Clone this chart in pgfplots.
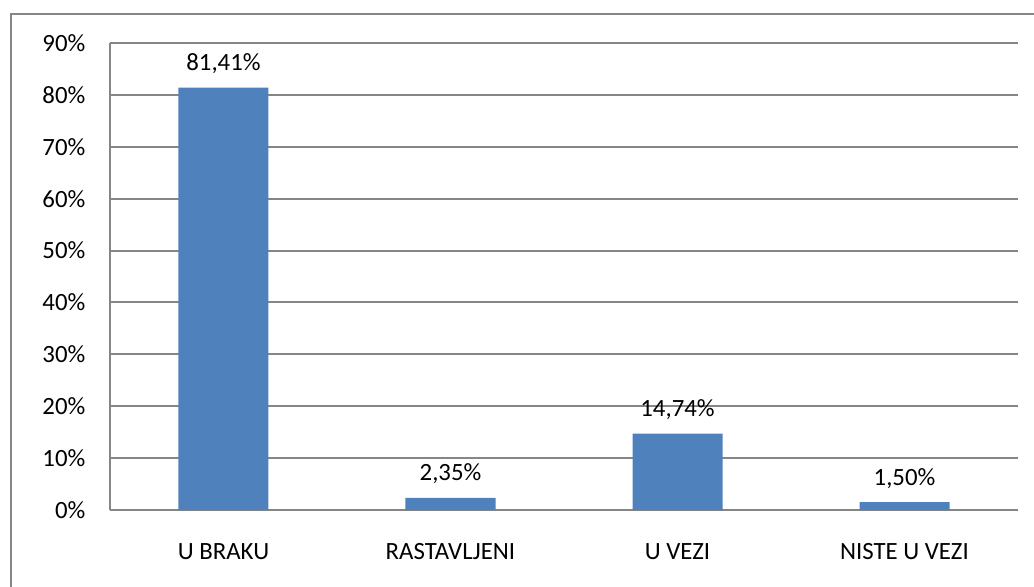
\documentclass[border=0pt]{standalone}
\usepackage{pgfplots}
\pgfplotsset{compat=1.18}
\usepackage{fontspec}
\setmainfont{Carlito}
\definecolor{barblue}{HTML}{4F81BD}
\definecolor{gridgray}{HTML}{868686}
\begin{document}
\fontsize{12.4}{14}\selectfont
\begin{tikzpicture}
\path[use as bounding box] (-55pt,-38pt) rectangle (462pt,255pt);
\begin{axis}[
  at={(0,0)}, anchor=south west,
  scale only axis,
  width=454pt, height=233.5pt,
  xmin=-0.5, xmax=3.5,
  ymin=0, ymax=90,
  xtick=data,
  xticklabels={U BRAKU, RASTAVLJENI, U VEZI, NISTE U VEZI},
  ytick={0,10,...,90},
  yticklabel={\pgfmathprintnumber{\tick}\%},
  /pgf/number format/assume math mode=true,
  ymajorgrids,
  grid style={gridgray, line width=1pt},
  axis x line*=bottom,
  axis y line*=left,
  axis line style={gridgray, line width=1pt},
  major tick length=0pt,
  xticklabel style={yshift=-12.5pt, font=\fontsize{12.4}{14}\selectfont},
  yticklabel style={xshift=-8pt, font=\fontsize{12.4}{14}\selectfont},
  ybar, bar width=45pt,
  nodes near coords={\pgfmathprintnumber[fixed,fixed zerofill,precision=2,use comma]{\pgfplotspointmeta}\%},
  nodes near coords style={font=\fontsize{12.4}{14}\selectfont, anchor=south, yshift=2.5pt, text=black},
  clip=false,
]
\addplot[fill=barblue, draw=none] coordinates {(0,81.41) (1,2.35) (2,14.74) (3,1.50)};
\end{axis}
\draw[gridgray, line width=1.3pt] (-49.5pt,-40pt) -- (-49.5pt,248pt) -- (464pt,248pt);
\end{tikzpicture}
\end{document}
